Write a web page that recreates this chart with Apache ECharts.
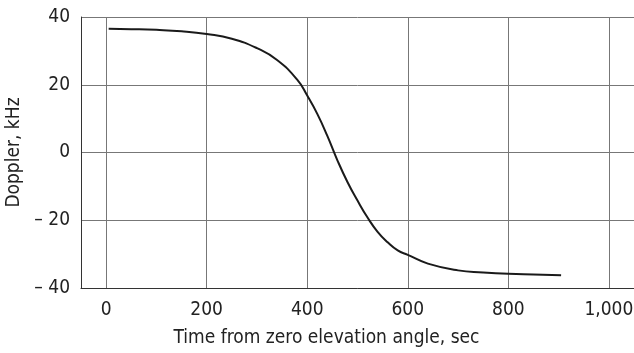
<!DOCTYPE html>
<html>
<head>
<meta charset="utf-8">
<script src="https://cdn.jsdelivr.net/npm/echarts@6/dist/echarts.min.js"></script>
<style>
	html, body { margin: 0; padding: 0; background: #fff; }
	#chart { width: 634px; height: 353px; }
</style>
</head>
<body>
<div id="chart"></div>
<script>
// 数据
const timeSec = [5, 50, 100, 150, 200, 250, 300, 340, 380, 400, 420, 440, 460, 480, 500, 520, 540, 560, 580, 600, 640, 700, 750, 800, 850, 905];
const dopplerKHz = [36.5, 36.4, 36.2, 35.8, 35.0, 33.6, 30.8, 27.3, 21.5, 16.8, 11.4, 4.9, -2.3, -8.7, -14.2, -19.2, -23.4, -26.5, -28.9, -30.2, -32.8, -34.8, -35.4, -35.8, -36.0, -36.2];
const xTicks = [0, 200, 400, 600, 800, 1000];

const font = '"DejaVu Sans Condensed", "Liberation Sans Narrow", sans-serif';

let chart = echarts.init(document.getElementById("chart"));

const option = {
	animation: false,
	grid: {
		left: 81,
		top: 17,
		right: 0,
		bottom: 65,
		outerBoundsMode: "none",
		containLabel: false,
	},
	xAxis: {
		type: "value",
		min: -50,
		max: 1050,
		name: "Time from zero elevation angle, sec",
		nameLocation: "middle",
		nameGap: 41,
		nameTextStyle: {
			fontFamily: font,
			fontSize: 19,
			color: "#222",
			padding: [0, 62, 0, 0],
		},
		axisLine: { show: true, onZero: false, lineStyle: { color: "#333", width: 1 } },
		axisTick: { show: false, customValues: xTicks },
		axisLabel: {
			customValues: xTicks,
			margin: 13,
			fontFamily: font,
			fontSize: 19,
			color: "#222",
			formatter: (v) => (v >= 1000 ? "1,000" : String(v)),
		},
		splitLine: { show: true, lineStyle: { color: "#777", width: 1 } },
	},
	yAxis: {
		type: "value",
		min: -40,
		max: 40,
		interval: 20,
		name: "Doppler, kHz",
		nameLocation: "middle",
		nameGap: 54,
		nameTextStyle: {
			fontFamily: font,
			fontSize: 19,
			color: "#222",
		},
		axisLine: { show: true, onZero: false, lineStyle: { color: "#333", width: 1 } },
		axisTick: { show: false },
		axisLabel: {
			margin: 11,
			fontFamily: font,
			fontSize: 19,
			color: "#222",
			formatter: (v) => (v < 0 ? "\u2013 " + Math.abs(v) : String(v)),
		},
		splitLine: { show: true, lineStyle: { color: "#777", width: 1 } },
	},
	series: [
		{
			type: "line",
			smooth: true,
			symbol: "none",
			data: timeSec.map((t, i) => [t, dopplerKHz[i]]),
			lineStyle: { color: "#1a1a1a", width: 2 },
		},
	],
};
chart.setOption(option);
</script>
</body>
</html>
